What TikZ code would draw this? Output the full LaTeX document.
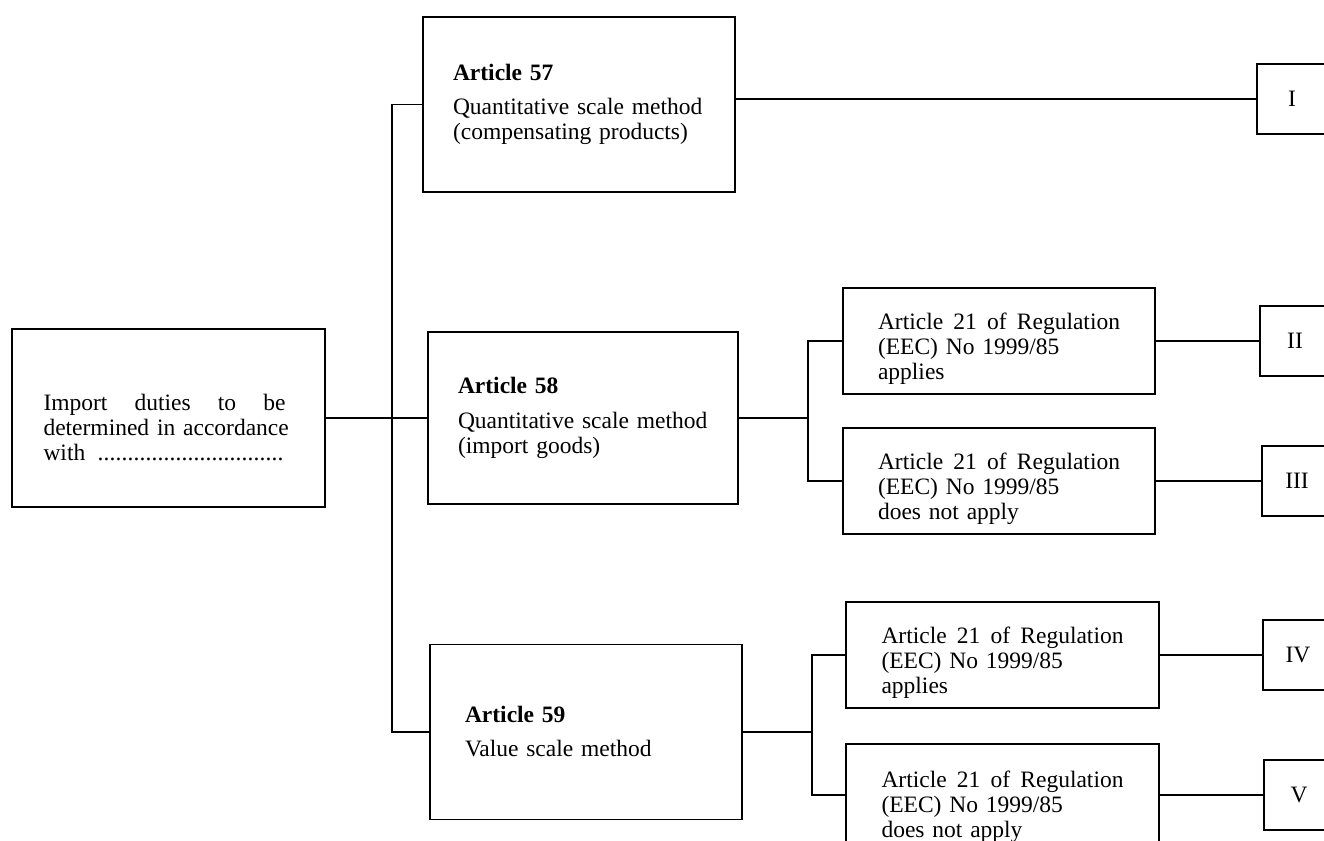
\documentclass[tikz,border=0pt]{standalone}
\usepackage{fontspec}
\setmainfont{Liberation Serif}
\newcommand\artline{\hbox to 242pt{Article \hfill 21 \hfill of \hfill Regulation}}
\newcommand\dn[1]{\rule{0pt}{#1}}
\begin{document}
\begin{tikzpicture}[x=1pt, y=-1pt, line width=1.2pt,
  font=\fontsize{23.5}{25}\selectfont,
  box/.style={draw, inner sep=0pt, align=left},
  bigbox/.style={box, minimum width=312pt, minimum height=175pt},
  smallbox/.style={box, minimum width=312pt, minimum height=106pt, text width=242pt},
  roman/.style={draw, inner sep=0pt, minimum width=70pt, minimum height=70pt}]
\useasboundingbox (0,0) rectangle (1324,840);
\fill[white] (0,0) rectangle (1324,840);
\clip (0,0) rectangle (1324,840);

% left box
\node[box, minimum width=313pt, minimum height=178pt, text width=250pt] (L) at (168.5,418)
  {\dn{36pt}\hbox to 242pt{Import \hfill duties \hfill to \hfill be}\\
   determined in accordance\\
   \hbox to 242pt{with \leaders\hbox to 6pt{\hss.\hss}\hfill}};

% article boxes
\node[bigbox, text width=252pt] (A57) at (579,104.5)
  {\textbf{Article 57}\\[9pt] Quantitative scale method\\ (compensating products)};
\node[bigbox, minimum width=310pt, minimum height=172pt, text width=250pt] (A58) at (583,418)
  {\textbf{Article 58}\\[10pt] Quantitative scale method\\ (import goods)};
\node[bigbox, text width=242pt] (A59) at (586,732)
  {\textbf{Article 59}\\[9pt] Value scale method};

% regulation boxes
\node[smallbox] (B58a) at (999,341)
  {\dn{32pt}\artline\\ (EEC) No 1999/85\\ applies};
\node[smallbox] (B58b) at (999,481)
  {\dn{32pt}\artline\\ (EEC) No 1999/85\\ does not apply};
\node[smallbox, minimum width=313pt] (B59a) at (1002.5,655)
  {\dn{32pt}\artline\\ (EEC) No 1999/85\\ applies};
\node[smallbox, minimum width=313pt, minimum height=102pt] (B59b) at (1002.5,795)
  {\dn{40pt}\artline\\ (EEC) No 1999/85\\ does not apply};

% result boxes
\node[roman] (R1) at (1292,99) {I};
\node[roman] (R2) at (1295,341) {II};
\node[roman] (R3) at (1297,481) {III};
\node[roman] (R4) at (1298,655) {IV};
\node[roman] (R5) at (1299,795) {V};

% connectors
\coordinate (tr) at (392,0);
\draw (A57.west) -- (A57.west -| tr) -- (A59.west -| tr) -- (A59.west);
\draw (L.east) -- (A58.west);
\draw (A57.east |- R1.west) -- (R1.west);

\coordinate (j58) at (808,418);
\draw (A58.east) -- (j58);
\draw (B58a.west) -| (j58) |- (B58b.west);
\coordinate (j59) at (812,732);
\draw (A59.east) -- (j59);
\draw (B59a.west) -| (j59) |- (B59b.west);

\draw (B58a.east) -- (R2.west);
\draw (B58b.east) -- (R3.west);
\draw (B59a.east) -- (R4.west);
\draw (B59b.east) -- (R5.west);
\end{tikzpicture}
\end{document}
